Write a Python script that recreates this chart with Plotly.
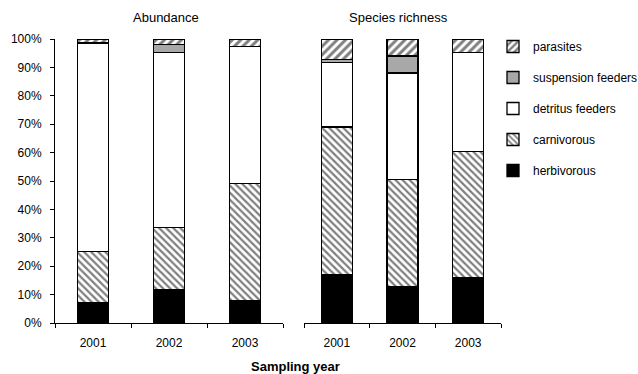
import plotly.graph_objects as go

years = ["2001", "2002", "2003"]
groups = ["herbivorous", "carnivorous", "detritus feeders", "suspension feeders", "parasites"]

abundance = {
    "herbivorous": [7.0, 11.8, 8.0],
    "carnivorous": [18.3, 21.9, 41.2],
    "detritus feeders": [73.0, 61.6, 48.1],
    "suspension feeders": [0.4, 2.7, 0.0],
    "parasites": [1.3, 2.0, 2.7],
}
richness = {
    "herbivorous": [17.0, 12.9, 15.9],
    "carnivorous": [52.0, 37.7, 44.4],
    "detritus feeders": [22.8, 37.4, 35.0],
    "suspension feeders": [1.0, 6.0, 0.0],
    "parasites": [7.2, 6.0, 4.7],
}
y_ticks = list(range(0, 101, 10))
y_tick_labels = [f"{v}%" for v in y_ticks]

styles = {
    "herbivorous": dict(color="black"),
    "carnivorous": dict(color="white", pattern=dict(shape="\\", size=5, solidity=0.45, fgcolor="black", bgcolor="white")),
    "detritus feeders": dict(color="white"),
    "suspension feeders": dict(color="#a8a8a8"),
    "parasites": dict(color="white", pattern=dict(shape="/", size=6, solidity=0.5, fgcolor="black", bgcolor="white")),
}

fig = go.Figure()
for i, g in enumerate(groups):
    for panel, data, xa, ya, w in [("a", abundance, "x", "y", 0.4), ("b", richness, "x2", "y2", 0.47)]:
        fig.add_trace(go.Bar(
            x=years, y=data[g], name=g, xaxis=xa, yaxis=ya, width=w,
            legendgroup=g, showlegend=(panel == "a"), legendrank=len(groups) - i,
            marker=dict(line=dict(color="black", width=1.3), **styles[g]),
        ))

L, R, T, B = 55, 137, 39, 51
plot_w = 638 - L - R
plot_h = 374 - T - B
def py(p):
    return (374 - B - p) / plot_h
def px_(x):
    return (x - L) / plot_w

font = dict(family="Liberation Sans, Arial, sans-serif", size=12, color="black")
fig.update_layout(
    width=638, height=374,
    margin=dict(l=L, r=R, t=T, b=B, autoexpand=False),
    barmode="stack",
    paper_bgcolor="white", plot_bgcolor="white",
    font=font,
    showlegend=True,
    legend=dict(x=px_(493), y=py(32), xanchor="left", yanchor="top",
                traceorder="grouped", tracegroupgap=12,
                font=dict(family="Liberation Sans, Arial, sans-serif", size=12, color="black"),
                itemwidth=30),
    xaxis=dict(domain=[0, px_(283)], type="category", categoryorder="array", categoryarray=years,
               showline=True, linecolor="black", linewidth=1.3, ticks="outside", ticklen=4,
               tickcolor="black", tickson="boundaries", showgrid=False, ticklabelstandoff=8,
               fixedrange=True),
    xaxis2=dict(domain=[px_(304), 1], type="category", categoryorder="array", categoryarray=years,
                showline=True, linecolor="black", linewidth=1.3, ticks="outside", ticklen=4,
                tickcolor="black", tickson="boundaries", showgrid=False, ticklabelstandoff=8,
                anchor="y2"),
    yaxis=dict(range=[0, 100], tickvals=y_ticks, ticktext=y_tick_labels, showline=True,
               linecolor="black", linewidth=1, ticks="outside", ticklen=4, tickcolor="black",
               showgrid=False, zeroline=False, ticklabelstandoff=6),
    yaxis2=dict(range=[0, 100], anchor="x2", showticklabels=False, showline=False,
                showgrid=False, zeroline=False, ticks=""),
)

fig.add_annotation(text="Abundance", x=px_(166), y=py(17), xref="paper", yref="paper",
                   showarrow=False, font=dict(size=13), xanchor="center", yanchor="middle")
fig.add_annotation(text="Species richness", x=px_(398), y=py(17), xref="paper", yref="paper",
                   showarrow=False, font=dict(size=13), xanchor="center", yanchor="middle")
fig.add_annotation(text="<b>Sampling year</b>", x=px_(295), y=py(366), xref="paper", yref="paper",
                   showarrow=False, font=dict(size=13), xanchor="center", yanchor="middle")

fig.write_html("out.html", config={"displayModeBar": False},
               post_script="document.body.style.margin='0';document.body.style.padding='0';")
